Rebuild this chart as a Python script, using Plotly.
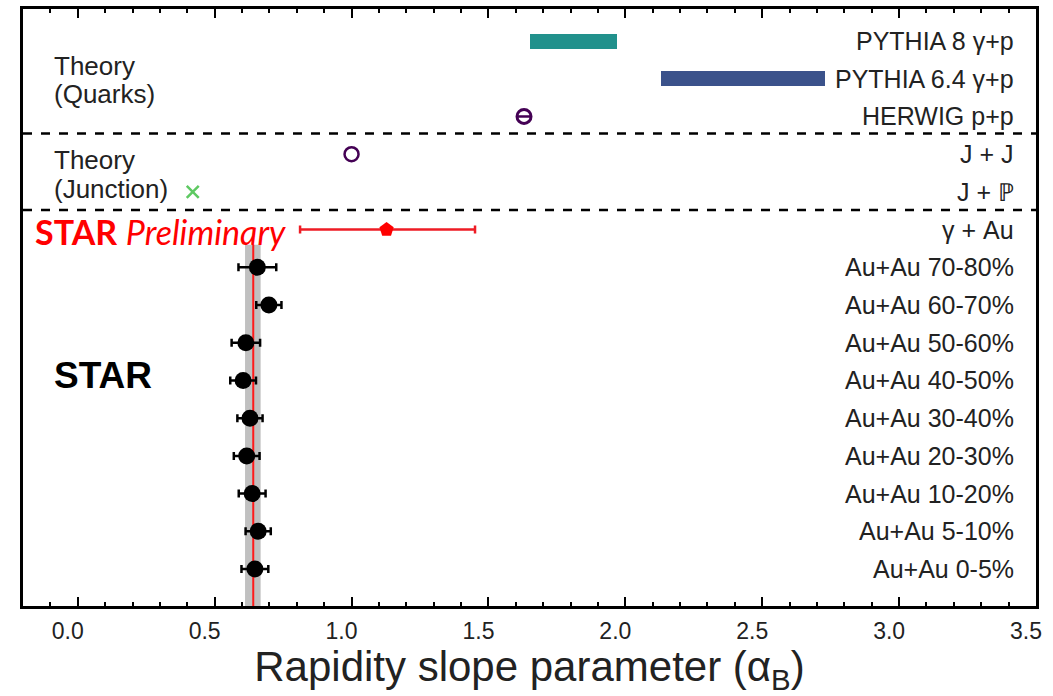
import plotly.graph_objects as go

# ---------------- data ----------------
aa_labels = ["Au+Au 70-80%", "Au+Au 60-70%", "Au+Au 50-60%", "Au+Au 40-50%",
             "Au+Au 30-40%", "Au+Au 20-30%", "Au+Au 10-20%", "Au+Au 5-10%", "Au+Au 0-5%"]
aa_rows = [8, 7, 6, 5, 4, 3, 2, 1, 0]
aa_alpha = [0.656, 0.698, 0.614, 0.604, 0.629, 0.617, 0.637, 0.659, 0.647]
aa_err = [0.069, 0.046, 0.052, 0.047, 0.046, 0.047, 0.049, 0.046, 0.049]

gau_label = "γ + Au"
gau_row = 9
gau_alpha = 1.128
gau_err_minus = 0.316
gau_err_plus = 0.323

jp_label, jp_row, jp_alpha = "J + ℙ", 10, 0.42
jj_label, jj_row, jj_alpha = "J + J", 11, 1.00
herwig_label, herwig_row, herwig_alpha = "HERWIG p+p", 12, 1.63
py64_label, py64_row, py64_lo, py64_hi = "PYTHIA 6.4 γ+p", 13, 2.13, 2.73
py8_label, py8_row, py8_lo, py8_hi = "PYTHIA 8 γ+p", 14, 1.65, 1.97

band_lo, band_hi, band_mean = 0.611, 0.668, 0.641
band_y = [-0.98, 8.6]
separators = [11.55, 9.52]

x_ticks = [0.0, 0.5, 1.0, 1.5, 2.0, 2.5, 3.0, 3.5]
x_ticktext = ["0.0", "0.5", "1.0", "1.5", "2.0", "2.5", "3.0", "3.5"]

group_labels = ["Theory", "(Quarks)", "Theory", "(Junction)"]
group_label_rows = [13.35, 12.59, 10.84, 10.08]

# viridis-like colours
c_py8 = "#21918c"
c_py64 = "#3b528b"
c_purple = "#440154"
c_green = "#5ec962"

FONT = "Liberation Sans, Arial, sans-serif"

fig = go.Figure()

# systematic band + mean line
fig.add_trace(go.Scatter(
    x=[band_lo, band_hi, band_hi, band_lo, band_lo],
    y=[band_y[0], band_y[0], band_y[1], band_y[1], band_y[0]],
    fill="toself", fillcolor="rgba(150,150,150,0.6)", mode="none",
    hoverinfo="skip", showlegend=False))
fig.add_trace(go.Scatter(
    x=[band_mean, band_mean], y=band_y, mode="lines",
    line=dict(color="#ff1a1a", width=2), showlegend=False, hoverinfo="skip"))

# PYTHIA bars
fig.add_trace(go.Bar(
    y=[py8_row], x=[py8_hi - py8_lo], base=[py8_lo], orientation="h",
    width=0.4, marker=dict(color=c_py8, line=dict(width=0)), showlegend=False))
fig.add_trace(go.Bar(
    y=[py64_row], x=[py64_hi - py64_lo], base=[py64_lo], orientation="h",
    width=0.4, marker=dict(color=c_py64, line=dict(width=0)), showlegend=False))

# HERWIG (theta-like symbol)
fig.add_trace(go.Scatter(
    x=[herwig_alpha], y=[herwig_row], mode="markers",
    marker=dict(symbol="circle-open", size=14, color=c_purple, line=dict(width=3)),
    showlegend=False))
fig.add_trace(go.Scatter(
    x=[herwig_alpha], y=[herwig_row], mode="markers",
    marker=dict(symbol="line-ew", size=10, color=c_purple, line=dict(width=2.5, color=c_purple)),
    showlegend=False))

# J+J
fig.add_trace(go.Scatter(
    x=[jj_alpha], y=[jj_row], mode="markers",
    marker=dict(symbol="circle-open", size=14, color=c_purple, line=dict(width=2.5)),
    showlegend=False))
# J+P
fig.add_trace(go.Scatter(
    x=[jp_alpha], y=[jp_row], mode="markers",
    marker=dict(symbol="x-thin", size=12, color=c_green, line=dict(width=2.5, color=c_green)),
    showlegend=False))

# gamma + Au
fig.add_trace(go.Scatter(
    x=[gau_alpha], y=[gau_row], mode="markers",
    marker=dict(symbol="pentagon", size=15, color="#ff0000"),
    error_x=dict(type="data", symmetric=False, array=[gau_err_plus],
                 arrayminus=[gau_err_minus], color="#ee1c25", thickness=2.5, width=4),
    showlegend=False))

# Au+Au
fig.add_trace(go.Scatter(
    x=aa_alpha, y=aa_rows, mode="markers",
    marker=dict(symbol="circle", size=17, color="black"),
    error_x=dict(type="data", array=aa_err, color="black", thickness=2.5, width=4),
    showlegend=False))

# separators
for s in separators:
    fig.add_shape(type="line", xref="paper", x0=0, x1=1, yref="y", y0=s, y1=s,
                  line=dict(color="black", width=2.5, dash="dash"))

# right-hand row labels
row_labels = [py8_label, py64_label, herwig_label, jj_label, jp_label, gau_label] + aa_labels
row_pos = [py8_row, py64_row, herwig_row, jj_row, jp_row, gau_row] + aa_rows
for lab, r in zip(row_labels, row_pos):
    fig.add_annotation(text=lab, x=0.980, xref="paper", xanchor="right",
                       y=r, yref="y", yanchor="middle", showarrow=False,
                       font=dict(family=FONT, size=25, color="#222222"))

# left-hand group labels
for lab, r in zip(group_labels, group_label_rows):
    fig.add_annotation(text=lab, x=0.0286, xref="paper", xanchor="left",
                       y=r, yref="y", showarrow=False, align="left",
                       font=dict(family=FONT, size=26, color="#222222"))
fig.add_annotation(text="<b>STAR</b>", x=0.0286, xref="paper", xanchor="left",
                   y=5.12, yref="y", showarrow=False,
                   font=dict(family=FONT, size=37, color="black"))
fig.add_annotation(text="<b>STAR</b> <i>Preliminary</i>", x=0.0099, xref="paper",
                   xanchor="left", y=8.94, yref="y", showarrow=False,
                   font=dict(family="Lato, Open Sans, sans-serif", size=34, color="#ff0000"))

fig.update_layout(
    width=1053, height=696,
    margin=dict(l=23, r=17, t=6, b=90),
    paper_bgcolor="white", plot_bgcolor="white",
    barmode="overlay", bargap=0,
    xaxis=dict(
        range=[-0.2, 3.5], showgrid=False, zeroline=False,
        showline=True, linecolor="black", linewidth=2.5, mirror="allticks",
        ticks="inside", ticklen=9, tickwidth=2, tickcolor="black",
        tickvals=x_ticks, ticktext=x_ticktext,
        tickfont=dict(family=FONT, size=23, color="#222222"),
        ticklabelshift=-10, ticklabelstandoff=3,
        minor=dict(dtick=0.1, tick0=0, ticks="inside", ticklen=4, tickwidth=2,
                   tickcolor="black", showgrid=False),
        title=dict(text="Rapidity slope parameter (α<sub>B</sub>)",
                   font=dict(family=FONT, size=42, color="#222222"), standoff=5),
    ),
    yaxis=dict(
        range=[-0.98, 14.85], showgrid=False, zeroline=False,
        showline=True, linecolor="black", linewidth=2.5, mirror=True,
        showticklabels=False, ticks="",
    ),
)

fig.write_html("out.html", config={"displayModeBar": False},
               post_script="document.body.style.margin='0px';")
